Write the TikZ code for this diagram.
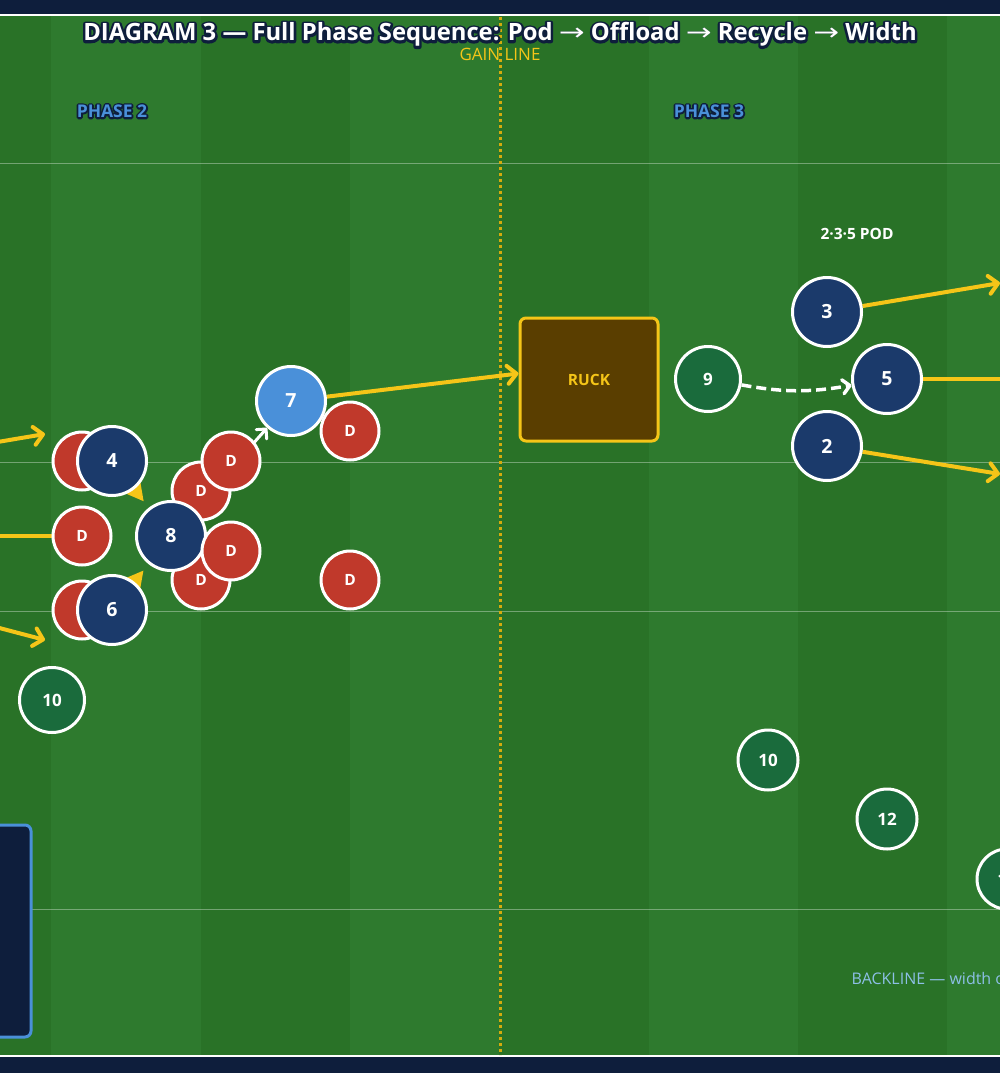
\documentclass[tikz,border=0pt]{standalone}
\usepackage{fontspec}
\setmainfont{Open Sans}
\newfontfamily\symfont{DejaVu Sans}
\newfontface\halofont{Open Sans Bold}[FakeBold=20]
\usepackage{xcolor}
\usepackage{graphicx}
\usepackage{tikz}
\usetikzlibrary{arrows.meta}
\definecolor{navy}{HTML}{0E1E3C}
\definecolor{pblue}{HTML}{1B3A6B}
\definecolor{sky}{HTML}{4A90D9}
\definecolor{dred}{HTML}{C0392B}
\definecolor{dgreen}{HTML}{1A6B3C}
\definecolor{gold}{HTML}{F5C518}
\definecolor{ruckbrown}{HTML}{5A3E00}
\definecolor{turfdark}{HTML}{297227}
\definecolor{turflight}{HTML}{2E7A2E}
\definecolor{backblue}{HTML}{8DBFE6}
\definecolor{gainc}{HTML}{D4AC0D}
\pgfdeclarelayer{pitch}
\pgfdeclarelayer{runs}
\pgfsetlayers{pitch,runs,main}
\tikzset{
  plyr/.style={circle, draw=white, line width=3pt, minimum size=69pt, inner sep=0pt,
    text=white, font=\bfseries\fontsize{19.5}{19.5}\selectfont},
  atk/.style={plyr, fill=pblue},
  carrier/.style={plyr, fill=sky},
  defn/.style={plyr, fill=dred, minimum size=58pt, font=\bfseries\fontsize{15.5}{15.5}\selectfont},
  supp/.style={plyr, fill=dgreen, minimum size=60pt, font=\bfseries\fontsize{17}{17}\selectfont},
  supbig/.style={supp, minimum size=65pt},
  ruckbox/.style={rectangle, rounded corners=6pt, fill=ruckbrown, draw=gold, line width=3pt,
    minimum width=138pt, minimum height=123pt, text=gold, font=\bfseries\fontsize{15.5}{15.5}\selectfont},
  run/.style={-{Straight Barb[length=9pt,width=18pt,round]}, line width=4pt, draw=gold},
  runoff/.style={line width=4pt, draw=gold},
  pass/.style={-{Triangle[length=18pt,width=18pt]}, line width=4pt, draw=gold, shorten >=8pt},
  offload/.style={-{Straight Barb[length=7pt,width=14pt,round]}, line width=3pt, draw=white},
  recycle/.style={-{Straight Barb[length=7pt,width=14pt,round]}, line width=3.5pt, draw=white,
    dash pattern=on 10pt off 5pt},
  ttl/.style={anchor=base, inner sep=0pt, font=\bfseries\fontsize{23.8}{23.8}\selectfont},
  ttlhalo/.style={ttl, text=navy, line join=round, font=\pgfsetroundjoin\halofont\fontsize{23.8}{23.8}\selectfont},
  phase/.style={anchor=base, inner sep=0pt, text=sky, font=\bfseries\fontsize{17.5}{17.5}\selectfont},
  phasehalo/.style={phase, text=navy, line join=round, font=\pgfsetroundjoin\halofont\fontsize{17.5}{17.5}\selectfont}
}
\newcommand{\ra}{{\symfont\mdseries\scalebox{1.3}[1]{→}}}
\newcommand{\TitleText}{DIAGRAM 3 — Full Phase Sequence: Pod \ra{} Offload \ra{} Recycle \ra{} Width}
\newcommand{\DrawPitch}{%
  \fill[navy] (0,0) rectangle (1000,1073);
  \foreach \i in {0,...,7}{
    \pgfmathsetmacro{\xa}{-98+149.3*\i}
    \ifodd\i \fill[turflight] (\xa,15) rectangle ++(149.3,1041);
    \else \fill[turfdark] (\xa,15) rectangle ++(149.3,1041); \fi
  }
  \foreach \y in {163,462,611,909}
    \draw[white, opacity=.35, line width=1pt] (0,\y) -- (1000,\y);
  \draw[white, line width=2pt] (0,15) -- (1000,15) (0,1056) -- (1000,1056);
  \draw[gainc, line width=3pt, dash pattern=on 3pt off 3pt] (500,17) -- (500,1055);
}

\begin{document}
\begin{tikzpicture}[x=1pt, y=-1pt]
  \useasboundingbox (0,0) rectangle (1000,1073);
  \clip (0,0) rectangle (1000,1073);
  \begin{pgfonlayer}{pitch}
    \DrawPitch
    \draw[fill=navy, draw=sky, line width=3pt, rounded corners=6pt] (-30,825) rectangle (31,1037);
  \end{pgfonlayer}

  % labels
  \node[ttlhalo] (titlehalo) at (500,41) {\TitleText};
  \node[ttl, text=white] (title) at (500,41) {\TitleText};
  \node[anchor=base, text=gold, font=\fontsize{17}{17}\selectfont] (gain) at (500,60) {GAIN LINE};
  \node[phasehalo] (ph2halo) at (112,117.5) {PHASE 2};
  \node[phase] (ph2) at (112,117.5) {PHASE 2};
  \node[phasehalo] (ph3halo) at (709,117.5) {PHASE 3};
  \node[phase] (ph3) at (709,117.5) {PHASE 3};
  \node[anchor=base, text=white, font=\bfseries\fontsize{15.5}{15.5}\selectfont] (pod) at (857,239) {2·3·5 POD};
  \node[anchor=base west, inner sep=0pt, text=backblue, font=\fontsize{16}{16}\selectfont] (back) at (851.5,984)
    {BACKLINE — width on both sides};

  \node[ruckbox] (ruck) at (589,379.5) {RUCK};

  % phase 2 defence and pod
  \node[defn] (d1) at (82,461) {D};
  \node[defn] (d2) at (82,536) {D};
  \node[defn] (d3) at (82,610) {D};
  \node[defn] (d4) at (201,491) {D};
  \node[defn] (d5) at (231,461) {D};
  \node[defn] (d6) at (201,580) {D};
  \node[atk] (p4) at (112,461) {4};
  \node[atk] (p6) at (112,610) {6};
  \node[atk] (p8) at (171,536) {8};
  \node[defn] (d7) at (231,551) {D};
  \node[carrier] (p7) at (291,401) {7};
  \node[defn] (d8) at (350,431) {D};
  \node[defn] (d9) at (350,580) {D};
  \node[supbig] (p10a) at (52,700) {10};

  % phase 3
  \node[supbig] (p9) at (708,379) {9};
  \node[atk] (p3) at (827,312) {3};
  \node[atk] (p5) at (887,379) {5};
  \node[atk] (p2) at (827,446) {2};
  \node[supp] (p10b) at (768,760) {10};
  \node[supp] (p12) at (887,819) {12};
  \node[supp] (p11) at (1007,879) {11};

  \coordinate (w4) at (-50,450);
  \coordinate (w4tip) at (45,434);
  \coordinate (w8) at (-50,536);
  \coordinate (w6) at (-50,615);
  \coordinate (w6tip) at (45,640);
  \coordinate (e3) at (1000,283);
  \coordinate (e5) at (1060,379);
  \coordinate (e2) at (1000,474);

  \begin{pgfonlayer}{runs}
    \draw[run] (w4) -- (w4tip);
    \draw[run] (w6) -- (w6tip);
    \draw[runoff] (w8) -- (d2);
    \draw[pass] (p4) -- (p8);
    \draw[pass] (p6) -- (p8);
    \draw[offload] (p8) -- (p7);
    \draw[run] (p7) -- ([yshift=6pt]ruck.west);
    \draw[recycle] (p9) to[bend right=10] (p5);
    \draw[run] (p3) -- (e3);
    \draw[runoff] (p5) -- (e5);
    \draw[run] (p2) -- (e2);
  \end{pgfonlayer}
\end{tikzpicture}
\end{document}
